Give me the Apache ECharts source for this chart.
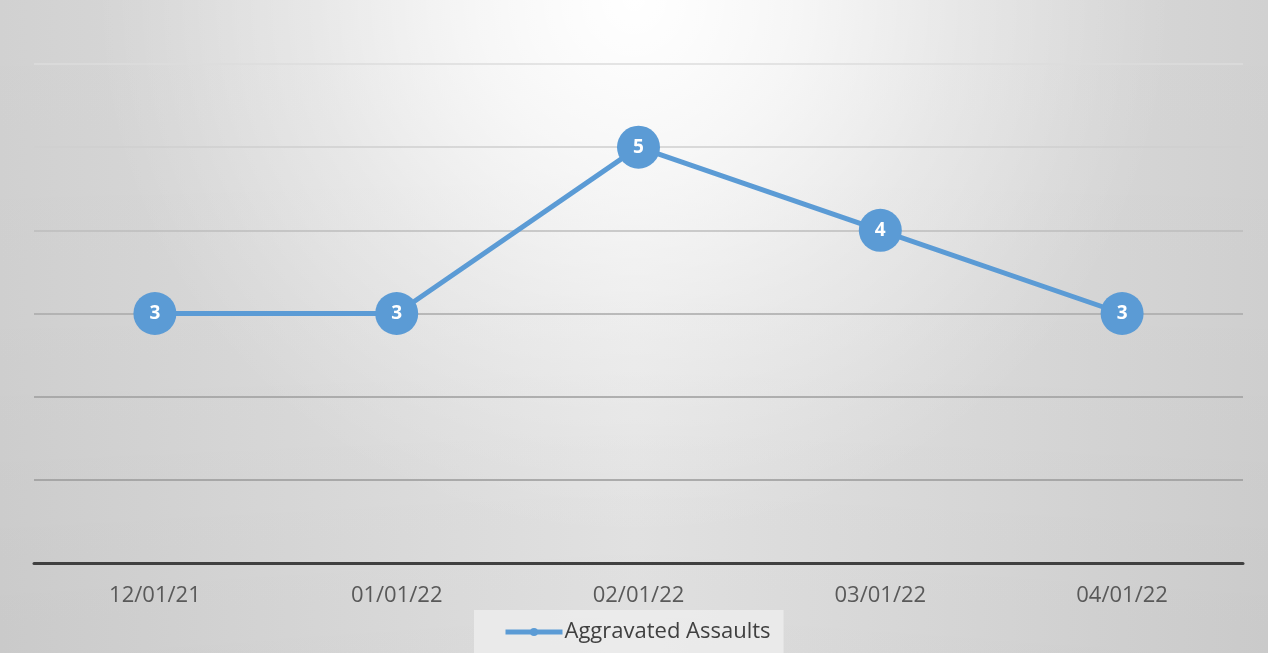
<!DOCTYPE html>
<html>
<head>
<meta charset="utf-8">
<script src="https://cdn.jsdelivr.net/npm/echarts@6/dist/echarts.min.js"></script>
<style>
html,body{margin:0;padding:0;}
#chart{width:1268px;height:653px;}
</style>
</head>
<body>
<div id="chart"></div>
<script>
const categories = ['12/01/21', '01/01/22', '02/01/22', '03/01/22', '04/01/22'];
const seriesName = 'Aggravated Assaults';
const assaults = [3, 3, 5, 4, 3];

const chart = echarts.init(document.getElementById('chart'));
chart.setOption({
  backgroundColor: '#dcdcdc',
  animation: false,
  textStyle: {fontFamily: 'Open Sans'},
  graphic: [
    {type: 'rect', z: -100, silent: true, shape: {x: 0, y: 0, width: 1268, height: 653},
     style: {fill: {type: 'linear', x: 0, y: 0, x2: 1, y2: 0, colorStops: [
       {offset: 0, color: '#d1d1d1'}, {offset: 0.5, color: '#e7e7e7'}, {offset: 1, color: '#d1d1d1'}]}}},
    {type: 'rect', z: -99, silent: true, shape: {x: 0, y: 0, width: 1268, height: 653},
     style: {fill: {type: 'linear', x: 0, y: 0, x2: 0, y2: 1, colorStops: [
       {offset: 0, color: 'rgba(0,0,0,0)'}, {offset: 0.5, color: 'rgba(0,0,0,0.01)'}, {offset: 1, color: 'rgba(0,0,0,0.035)'}]}}},
    {type: 'rect', z: -98, silent: true, shape: {x: 0, y: 0, width: 1268, height: 653},
     style: {fill: {type: 'radial', x: 634, y: 0, r: 540, global: true, colorStops: [
       {offset: 0, color: 'rgba(255,255,255,1)'},
       {offset: 0.3, color: 'rgba(255,255,255,0.7)'},
       {offset: 0.6, color: 'rgba(255,255,255,0.33)'},
       {offset: 0.85, color: 'rgba(255,255,255,0.1)'},
       {offset: 1, color: 'rgba(255,255,255,0)'}]}}}
  ],
  grid: {left: 34, right: 25, top: 64, bottom: 90},
  legend: {
    data: [seriesName],
    left: 474, top: 610,
    padding: [11, 13, 12, 29],
    backgroundColor: 'rgba(238,238,238,0.8)',
    itemWidth: 57, itemHeight: 10, itemGap: 0,
    lineStyle: {width: 5},
    textStyle: {fontSize: 22, color: '#404040', fontFamily: 'Open Sans', padding: [0,0,0,-3]}
  },
  xAxis: {
    type: 'category',
    data: categories,
    boundaryGap: true,
    axisLine: {lineStyle: {color: '#404040', width: 3}},
    axisTick: {show: false},
    axisLabel: {fontSize: 22, color: '#595959', margin: 22}
  },
  yAxis: {
    type: 'value',
    min: 0, max: 6, interval: 1,
    axisLabel: {show: false},
    axisLine: {show: false},
    axisTick: {show: false},
    splitLine: {lineStyle: {color: ['#999999', '#999999', '#9d9d9d', '#a8a8a8', '#bdbdbd', '#cfcfcf', '#dcdcdc'], width: 1.5}}
  },
  series: [{
    name: seriesName,
    type: 'line',
    data: assaults,
    symbol: 'circle',
    symbolSize: 43,
    lineStyle: {color: '#5B9BD5', width: 5},
    itemStyle: {color: '#5B9BD5'},
    label: {show: true, position: 'inside', color: '#ffffff', fontWeight: 'bold', fontSize: 19, fontFamily: 'Open Sans'}
  }]
});
</script>
</body>
</html>
